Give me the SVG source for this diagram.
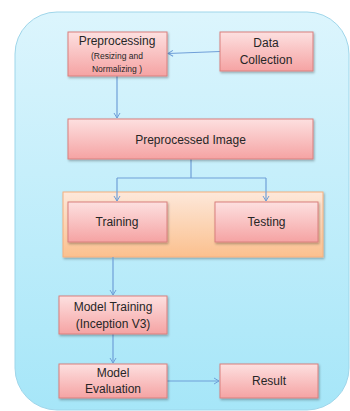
<svg xmlns="http://www.w3.org/2000/svg" width="350" height="411" viewBox="0 0 350 411">
<defs>
<linearGradient id="bg" x1="0" y1="0" x2="0" y2="1"><stop offset="0" stop-color="#dcf5fd"/><stop offset="1" stop-color="#a6e6f8"/></linearGradient>
<linearGradient id="pk" x1="0" y1="0" x2="0" y2="1"><stop offset="0" stop-color="#fde0e0"/><stop offset="1" stop-color="#f5a3a3"/></linearGradient>
<linearGradient id="or" x1="0" y1="0" x2="0" y2="1"><stop offset="0" stop-color="#fde8da"/><stop offset="1" stop-color="#fbc08e"/></linearGradient>
<marker id="ah" markerWidth="8" markerHeight="8" refX="6" refY="4" orient="auto" markerUnits="userSpaceOnUse"><path d="M1,1 L6,4 L1,7" fill="none" stroke="#6f9fd8" stroke-width="1"/></marker>
<filter id="sh" x="-10%" y="-10%" width="130%" height="140%"><feDropShadow dx="1" dy="1.5" stdDeviation="0.8" flood-color="#000" flood-opacity="0.3"/></filter>
</defs>
<style>
.box{fill:url(#pk);stroke:#d9807e;stroke-width:1;filter:url(#sh)}
.t{font-family:"Liberation Sans",Arial,sans-serif;font-size:12px;fill:#262626;text-anchor:middle}
.s{font-size:8.5px}
.c{fill:none;stroke:#6f9fd8;stroke-width:1.2}
</style>
<rect x="15" y="12" width="334" height="398" rx="42" fill="url(#bg)" stroke="#9fd6ea" stroke-width="1"/>
<g id="container"><rect x="63" y="192" width="260" height="65" fill="url(#or)" stroke="#f6b07e" stroke-width="1" filter="url(#sh)"/></g>
<g id="connectors">
<path class="c" d="M220,51.5 L168,53.5" marker-end="url(#ah)"/>
<path class="c" d="M117,76 L117,118" marker-end="url(#ah)"/>
<path class="c" d="M191,159 L191,178 M117,178 L266,178"/>
<path class="c" d="M117,178 L117,201" marker-end="url(#ah)"/>
<path class="c" d="M266,178 L266,201" marker-end="url(#ah)"/>
<path class="c" d="M113,257 L113,295" marker-end="url(#ah)"/>
<path class="c" d="M113,334 L113,363" marker-end="url(#ah)"/>
<path class="c" d="M167,381 L219,381" marker-end="url(#ah)"/>
</g>
<g id="preprocessing"><rect class="box" x="68" y="32" width="99" height="44"/>
<text class="t" x="117" y="45">Preprocessing</text>
<text class="t s" x="117" y="59">(Resizing and</text>
<text class="t s" x="117" y="72">Normalizing )</text></g>
<g id="data-collection"><rect class="box" x="220" y="32" width="93" height="39"/>
<text class="t" x="266" y="47">Data</text>
<text class="t" x="266" y="64">Collection</text></g>
<g id="preprocessed-image"><rect class="box" x="68" y="119" width="245" height="40"/>
<text class="t" x="190.5" y="144">Preprocessed Image</text></g>
<g id="training"><rect class="box" x="68" y="202" width="99" height="40"/>
<text class="t" x="117" y="226">Training</text></g>
<g id="testing"><rect class="box" x="215" y="202" width="103" height="40"/>
<text class="t" x="266.5" y="226">Testing</text></g>
<g id="model-training"><rect class="box" x="59" y="296" width="108" height="38"/>
<text class="t" x="113" y="311">Model Training</text>
<text class="t" x="113" y="328">(Inception V3)</text></g>
<g id="model-evaluation"><rect class="box" x="59" y="364" width="108" height="34"/>
<text class="t" x="113" y="377">Model</text>
<text class="t" x="113" y="393">Evaluation</text></g>
<g id="result"><rect class="box" x="220" y="364" width="98" height="34"/>
<text class="t" x="269" y="385">Result</text></g>
</svg>
